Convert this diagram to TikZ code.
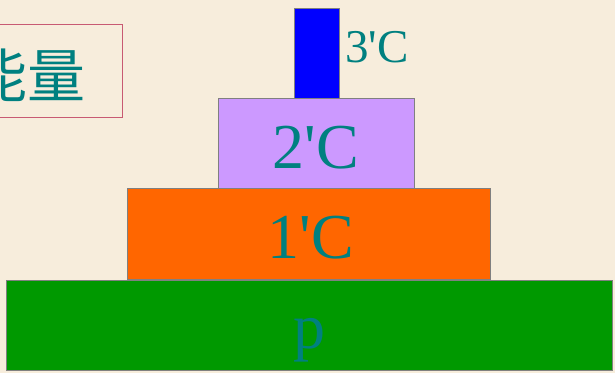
\documentclass[tikz,border=0pt]{standalone}
\usepackage{fontspec}
\setmainfont{Liberation Serif}
\newfontfamily\cjk{Noto Sans CJK SC}
\definecolor{bg}{RGB}{247,237,220}
\definecolor{tealtxt}{RGB}{0,128,128}
\definecolor{frame}{RGB}{200,90,115}
\definecolor{edge}{RGB}{128,128,128}
\definecolor{bluec}{RGB}{0,0,255}
\definecolor{purplec}{RGB}{204,153,255}
\definecolor{orangec}{RGB}{255,102,0}
\definecolor{greenc}{RGB}{0,153,0}
\tikzset{
  layer/.style={draw=edge, line width=1pt},
  lbl/.style={text=tealtxt, font=\fontsize{64}{64}\selectfont, inner sep=0pt, anchor=base},
}
\begin{document}
\begin{tikzpicture}[x=1pt,y=-1pt]
\useasboundingbox (0,0) rectangle (615,373);
\clip (0,0) rectangle (615,373);
\fill[bg] (0,0) rectangle (615,373);
\draw[frame, line width=1pt] (-10,24) rectangle (122,117);
\node[text=tealtxt, font=\cjk\fontsize{58}{58}\selectfont, inner sep=0pt, anchor=base east] (energy) at (86,97) {能量};
\draw[layer, fill=greenc] (6,280) rectangle (612,370);
\draw[layer, fill=orangec] (127,188) rectangle (490,279);
\draw[layer, fill=purplec] (218,98) rectangle (414,188);
\draw[layer, fill=bluec] (294,8) rectangle (339,98);
\node[lbl] (p) at (309,348) {p};
\node[lbl] (c1) at (311,258) {1\textquotesingle C};
\node[lbl] (c2) at (316,168) {2\textquotesingle C};
\node[text=tealtxt, font=\fontsize{47}{47}\selectfont, inner sep=0pt, anchor=base west] (c3) at (345,62) {3\textquotesingle C};
\end{tikzpicture}
\end{document}
